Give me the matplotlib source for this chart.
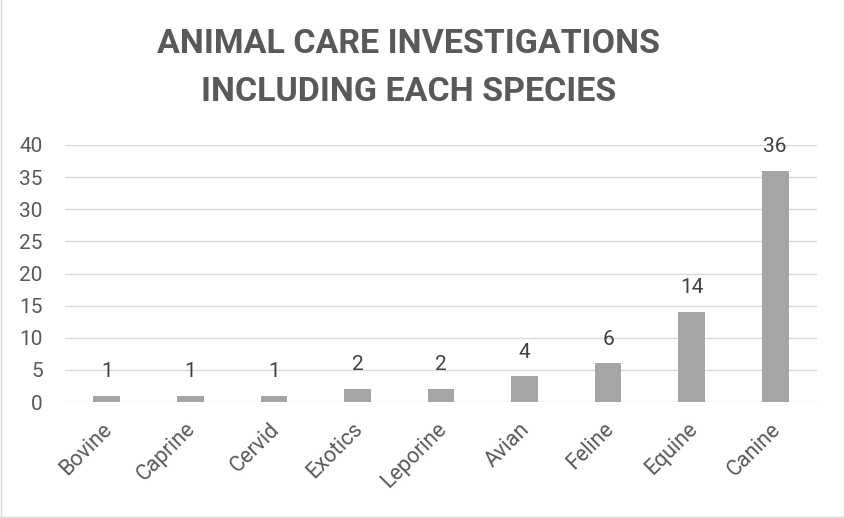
import matplotlib
matplotlib.use('Agg')
import matplotlib.pyplot as plt
from matplotlib.lines import Line2D
from matplotlib.transforms import ScaledTranslation

# data
species = ['Bovine', 'Caprine', 'Cervid', 'Exotics', 'Leporine', 'Avian', 'Feline', 'Equine', 'Canine']
counts = [1, 1, 1, 2, 2, 4, 6, 14, 36]
yticks = [0, 5, 10, 15, 20, 25, 30, 35, 40]

plt.rcParams['font.family'] = ['Roboto', 'DejaVu Sans']

fig = plt.figure(figsize=(8.45, 5.18), dpi=100)
ax = fig.add_axes([65 / 845, 1 - 402 / 518, (817 - 65) / 845, (402 - 145) / 518])

x = range(len(species))
bars = ax.bar(x, counts, width=0.32, color='#a5a5a5', zorder=3)

# data labels above the bars
for xi, v in zip(x, counts):
    ax.annotate(str(v), (xi, v), xytext=(0, 13.5), textcoords='offset points',
                ha='center', va='baseline', fontsize=15, color='#404040')

ax.set_xlim(-0.5, len(species) - 0.5)
ax.set_ylim(0, 40)
ax.set_yticks(yticks)
ax.set_yticklabels([str(t) for t in yticks], fontsize=15, color='#595959')
ax.set_xticks(list(x))
ax.set_xticklabels(species, rotation=45, ha='right', rotation_mode='anchor',
                   fontsize=15.5, color='#595959')
ax.tick_params(axis='both', length=0)
ax.tick_params(axis='y', pad=16)
ax.tick_params(axis='x', pad=12)

# nudge category labels a little to the left
shift = ScaledTranslation(-5 / 100, 0, fig.dpi_scale_trans)
for lbl in ax.get_xticklabels():
    lbl.set_transform(lbl.get_transform() + shift)

ax.grid(axis='y', color='#d9d9d9', linewidth=1.0, zorder=0)
for s in ax.spines.values():
    s.set_visible(False)

fig.text(409 / 845, 1 - 44 / 518, 'ANIMAL CARE INVESTIGATIONS', ha='center', va='center',
         fontsize=24.5, fontweight='bold', color='#595959')
fig.text(409 / 845, 1 - 92 / 518, 'INCLUDING EACH SPECIES', ha='center', va='center',
         fontsize=24.5, fontweight='bold', color='#595959')

# light chart border
fig.add_artist(Line2D([0.0015, 0.0015], [0, 1], color='#d9d9d9', linewidth=1, transform=fig.transFigure))
fig.add_artist(Line2D([0.9985, 0.9985], [0, 1], color='#d9d9d9', linewidth=1, transform=fig.transFigure))
fig.add_artist(Line2D([0, 1], [0.002, 0.002], color='#d9d9d9', linewidth=1, transform=fig.transFigure))

fig.savefig('out.png', dpi=100)
